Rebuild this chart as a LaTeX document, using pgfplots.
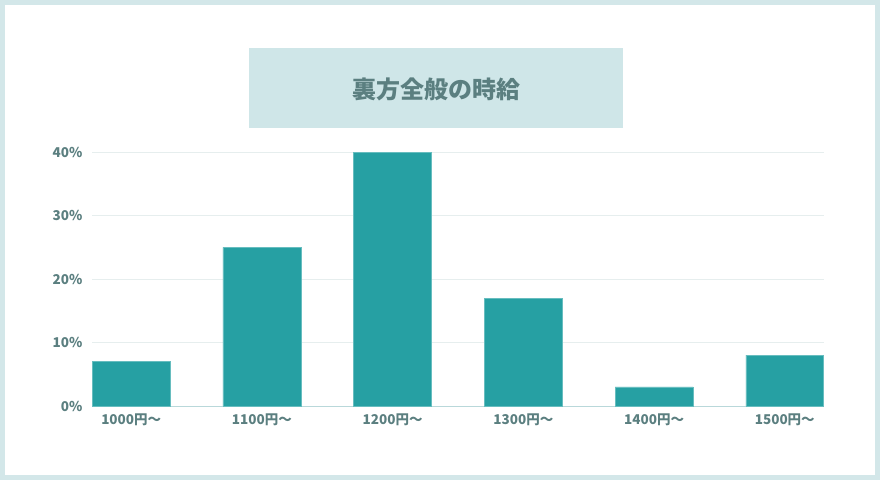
\documentclass[border=0pt]{standalone}
\usepackage{pgfplots}
\pgfplotsset{compat=1.18}
\usepackage{fontspec}
\setmainfont{Noto Sans CJK JP}
\definecolor{framec}{HTML}{D3E7E9}
\definecolor{titlebg}{HTML}{CFE6E8}
\definecolor{txt}{HTML}{5B7F80}
\definecolor{barc}{HTML}{26A0A3}
\definecolor{gridc}{HTML}{E6EEEE}
\definecolor{basec}{HTML}{B9D8DA}
\begin{document}
\begin{tikzpicture}[x=1pt,y=1pt]
\fill[framec] (0,0) rectangle (880,480);
\fill[white] (5,5) rectangle (875,475);
\fill[titlebg] (249,352) rectangle (623,432);
\node[text=txt,font=\fontsize{24}{28}\selectfont\bfseries] at (436,391) {裏方全般の時給};
\begin{axis}[
  at={(92pt,74pt)}, anchor=south west,
  scale only axis, width=732pt, height=254pt,
  xmin=-0.3, xmax=5.3, ymin=0, ymax=40,
  axis line style={draw=none},
  ytick={0,10,20,30,40},
  yticklabels={0\%,10\%,20\%,30\%,40\%},
  xtick={0,1,2,3,4,5},
  xticklabels={1000円〜,1100円〜,1200円〜,1300円〜,1400円〜,1500円〜},
  ymajorgrids, xmajorgrids=false,
  major grid style={draw=gridc, line width=0.8pt},
  major tick length=0pt,
  tick label style={text=txt, font=\fontsize{13.5}{15}\selectfont\bfseries},
  yticklabel style={xshift=-6pt},
  xticklabel style={yshift=-4pt},
  /pgf/number format/assume math mode=true,
  clip=false,
]
\draw[basec, line width=0.8pt] (axis cs:-0.3,0) -- (axis cs:5.3,0);
\addplot[ybar, bar width=0.596, fill=barc, draw=barc!70!white, line width=0.5pt] coordinates {(0,7) (1,25) (2,40) (3,17) (4,3) (5,8)};
\end{axis}
\end{tikzpicture}
\end{document}
